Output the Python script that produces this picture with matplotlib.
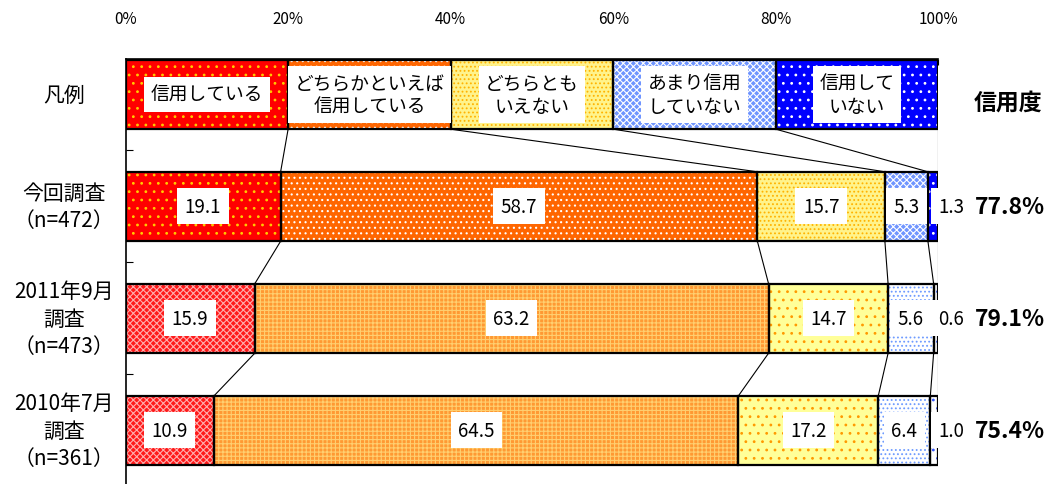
import numpy as np
import matplotlib.pyplot as plt

plt.rcParams['font.family'] = ['Noto Sans CJK JP', 'DejaVu Sans']
plt.rcParams['hatch.linewidth'] = 0.8

# survey answers and rows
answers = ['信用している', 'どちらかといえば\n信用している', 'どちらとも\nいえない',
           'あまり信用\nしていない', '信用して\nいない']
row_labels = ['凡例', '今回調査\n（n=472）', '2011年9月\n調査\n（n=473）', '2010年7月\n調査\n（n=361）']

legend_share = [20, 20, 20, 20, 20]
survey_now = [19.1, 58.7, 15.7, 5.3, 1.3]
survey_2011 = [15.9, 63.2, 14.7, 5.6, 0.6]
survey_2010 = [10.9, 64.5, 17.2, 6.4, 1.0]

# (face colour, pattern colour, hatch) per answer
style_new = [('#FF0000', '#FFCC00', '..'), ('#FF6600', 'white', '...'),
             ('#FFF38C', '#FFB300', '....'), ('#6F95FF', 'white', 'xxxxx'),
             ('#0000FF', 'white', '..')]
style_old = [('#FF1A1A', '#FFADAD', 'xxxxx'), ('#FF9933', '#FFCF70', '++++'),
             ('#FFFF99', '#FF9900', '..'), ('white', '#6E9BFF', '....'),
             ('white', '#3355FF', '..')]

series = [legend_share, survey_now, survey_2011, survey_2010]
styles = [style_new, style_new, style_old, style_old]
bar_h = 0.62

fig = plt.figure(figsize=(10.52, 4.85), dpi=100)
ax = fig.add_axes([0.1193, 0.0, 0.7728, 0.8763])

ends = []
for r, (vals, sty) in enumerate(zip(series, styles)):
    vals = np.asarray(vals, dtype=float)
    shares = vals / vals.sum() * 100  # 100% stacked
    left = np.concatenate([[0], np.cumsum(shares)[:-1]])
    for k in range(len(shares)):
        face, pcol, hatch = sty[k]
        ax.barh(r, shares[k], left=left[k], height=bar_h, color=face,
                edgecolor=pcol, hatch=hatch, linewidth=0, zorder=2)
        ax.barh(r, shares[k], left=left[k], height=bar_h, fill=False,
                edgecolor='black', linewidth=1.6, zorder=3)
        cx = left[k] + shares[k] / 2
        if r == 0:
            ax.text(cx, r, answers[k], ha='center', va='center', fontsize=13.5,
                    linespacing=1.15, zorder=5,
                    bbox=dict(boxstyle='square,pad=0.35', fc='white', ec='none'))
        else:
            if k == len(shares) - 1:
                cx = 101.6
            ax.text(cx, r, f'{vals[k]:.1f}', ha='center', va='center', fontsize=13.5,
                    zorder=5, bbox=dict(boxstyle='square,pad=0.4', fc='white', ec='none'))
    ends.append(np.cumsum(shares))

    if r > 0:
        ax.text(108.8, r, f'{vals[0] + vals[1]:.1f}%', ha='center', va='center',
                fontsize=16.5, fontweight='bold')

ax.text(108.6, 0.07, '信用度', ha='center', va='center', fontsize=16.5, fontweight='bold')

# series lines between neighbouring bars
for r in range(len(series) - 1):
    for j in range(len(ends[r])):
        ax.plot([ends[r][j], ends[r + 1][j]], [r + bar_h / 2, r + 1 - bar_h / 2],
                color='black', linewidth=0.8, zorder=1)

for r, lab in enumerate(row_labels):
    ax.text(-7.6, r, lab, ha='center', va='center', fontsize=15, linespacing=1.3)

ax.set_xlim(0, 100)
ax.set_ylim(3.478, -0.317)
ax.xaxis.tick_top()
ax.set_xticks(np.arange(0, 101, 20))
ax.set_xticklabels([f'{t}%' for t in range(0, 101, 20)])
ax.tick_params(axis='x', direction='in', length=4, pad=23, labelsize=11)
ax.set_yticks([0.5, 1.5, 2.5])
ax.set_yticklabels([])
ax.tick_params(axis='y', direction='in', length=5)
ax.spines['right'].set_visible(False)
ax.spines['bottom'].set_visible(False)
ax.spines['top'].set_linewidth(1.2)
ax.spines['left'].set_linewidth(1.2)

fig.savefig('out.png', dpi=100)
